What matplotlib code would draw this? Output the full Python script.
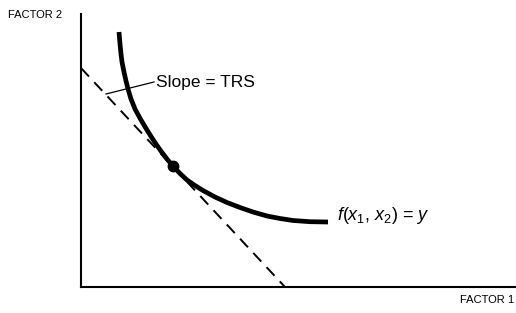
import matplotlib.pyplot as plt

plt.rcParams['font.family'] = ['Liberation Sans', 'DejaVu Sans']
plt.rcParams['mathtext.fontset'] = 'custom'
plt.rcParams['mathtext.it'] = 'Liberation Sans:italic'
plt.rcParams['mathtext.rm'] = 'Liberation Sans'

# isoquant f(x1, x2) = y
iso_x = [38, 39, 40, 41, 43, 45, 47, 50, 54, 60, 66, 71, 76, 81, 86, 92, 99, 106, 114,
         122, 134, 146, 159, 172, 186, 199, 212, 229, 247]
iso_y = [255, 243, 233, 225, 215, 206, 198, 188, 178, 167, 157, 149, 141.5, 134.5, 128, 121,
         113.5, 107, 101.5, 96.5, 90, 84.5, 79.5, 75, 71, 68.5, 66.5, 65.3, 65]

# tangent line (slope = TRS) and point of tangency
tan_x = [0, 204]
tan_y = [219, 0]
pt_x, pt_y = 92, 121

fig = plt.figure(figsize=(5.16, 3.13), dpi=100)
ax = fig.add_axes([81 / 516, 26 / 313, 1 - 81 / 516, (287 - 14) / 313])

ax.plot(iso_x, iso_y, color='black', lw=3.4, solid_capstyle='butt', solid_joinstyle='round')
ax.plot(tan_x, tan_y, color='black', lw=1.4, dashes=(6, 4))
ax.plot(pt_x, pt_y, 'o', color='black', ms=7.5)

ax.plot([25, 73], [193, 205], color='black', lw=0.9)
ax.text(75, 204, 'Slope = TRS', fontsize=12.5, va='center', ha='left')
ax.text(256, 71, r'$f$($x_1$, $x_2$) = $y$', fontsize=13, va='center', ha='left')

ax.set_xlim(0, 435)
ax.set_ylim(0, 273)
ax.set_xticks([])
ax.set_yticks([])
for s in ['top', 'right']:
    ax.spines[s].set_visible(False)
for s in ['left', 'bottom']:
    ax.spines[s].set_linewidth(1.5)

fig.text(8 / 516, 1 - 15 / 313, 'FACTOR 2', fontsize=8, va='center', ha='left')
fig.text(514 / 516, 1 - 300 / 313, 'FACTOR 1', fontsize=8, va='center', ha='right')

fig.savefig('out.png', dpi=100)
